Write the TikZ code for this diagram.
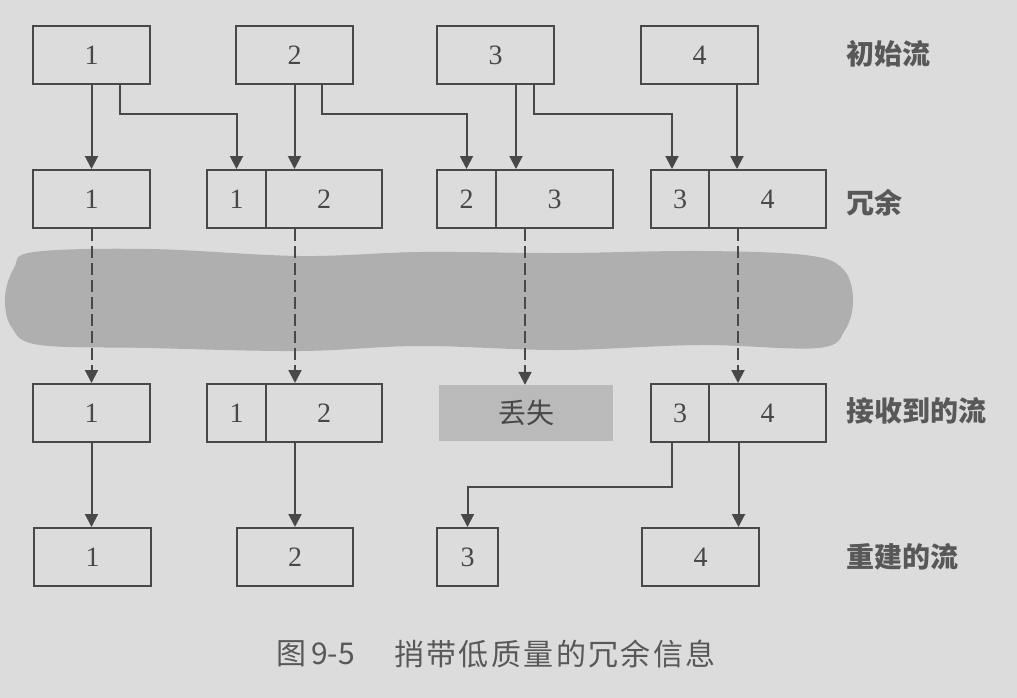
\documentclass[tikz,border=0pt]{standalone}
\usepackage{fontspec}
\setmainfont{Liberation Serif}
\newfontfamily\cjk{Noto Sans CJK SC}
\newfontfamily\cjkwide[LetterSpace=8]{Noto Sans CJK SC}
\usetikzlibrary{arrows.meta}
\definecolor{bgc}{RGB}{220,220,220}
\definecolor{ink}{RGB}{72,72,72}
\definecolor{smudgec}{RGB}{175,175,175}
\definecolor{lostc}{RGB}{186,186,186}
\definecolor{lbl}{RGB}{88,88,88}
\begin{document}
\begin{tikzpicture}[x=1pt,y=-1pt,
  box/.style={draw=ink, line width=2pt, inner sep=0pt, minimum height=58pt,
    text=ink, font=\fontsize{28}{28}\selectfont},
  lostbox/.style={fill=lostc, inner sep=0pt, minimum width=174pt, minimum height=56pt,
    text=ink, font=\cjk\fontsize{28}{28}\selectfont},
  arr/.style={draw=ink, line width=2pt, -{Triangle[width=13pt,length=13pt]}},
  darr/.style={arr, dash pattern=on 12pt off 5pt},
  rowlabel/.style={anchor=west, inner sep=0pt, text=lbl, font=\cjk\bfseries\fontsize{28}{28}\selectfont},
  captext/.style={anchor=west, inner sep=0pt, text=lbl, font=\cjk\fontsize{30}{30}\selectfont}
]
\useasboundingbox (0,0) rectangle (1017,698);
\fill[bgc] (0,0) rectangle (1017,698);

% lossy channel smudge
\fill[smudgec] plot[smooth cycle, tension=0.6] coordinates {
  (5,298) (14,268) (34,252) (150,249) (300,256) (420,252) (560,253) (700,251)
  (805,255) (842,268) (853,298) (845,330) (818,348) (700,345) (560,350)
  (420,346) (300,351) (150,348) (40,345) (12,328)};

% row 1: original stream
\node[box, minimum width=117pt] (t1) at (91.5,55) {1};
\node[box, minimum width=117pt] (t2) at (294.5,55) {2};
\node[box, minimum width=117pt] (t3) at (495.5,55) {3};
\node[box, minimum width=117pt] (t4) at (699.5,55) {4};

% row 2: redundant
\node[box, minimum width=117pt] (r2a) at (91.5,199) {1};
\node[box, minimum width=59pt] (r2b1) at (236.5,199) {1};
\node[box, minimum width=116pt] (r2b2) at (324,199) {2};
\node[box, minimum width=59pt] (r2c1) at (466.5,199) {2};
\node[box, minimum width=117pt] (r2c2) at (554.5,199) {3};
\node[box, minimum width=58pt] (r2d1) at (680,199) {3};
\node[box, minimum width=117pt] (r2d2) at (767.5,199) {4};

% row 3: received
\node[box, minimum width=117pt] (r3a) at (91.5,413) {1};
\node[box, minimum width=59pt] (r3b1) at (236.5,413) {1};
\node[box, minimum width=116pt] (r3b2) at (324,413) {2};
\node[lostbox] (lost) at (526,413) {丢失};
\node[box, minimum width=58pt] (r3d1) at (680,413) {3};
\node[box, minimum width=117pt] (r3d2) at (767.5,413) {4};

% row 4: rebuilt
\node[box, minimum width=117pt] (f1) at (92.5,557) {1};
\node[box, minimum width=116pt] (f2) at (295,557) {2};
\node[box, minimum width=61pt] (f3) at (467.5,557) {3};
\node[box, minimum width=117pt] (f4) at (700.5,557) {4};

% row labels
\node[rowlabel] (l1) at (846,54) {初始流};
\node[rowlabel] (l2) at (846,203) {冗余};
\node[rowlabel] (l3) at (846,411) {接收到的流};
\node[rowlabel] (l4) at (846,557) {重建的流};

% connectors row 1 -> row 2
\coordinate (b1) at ([xshift=28.5pt]t1.south);
\coordinate (b2) at ([xshift=27.5pt]t2.south);
\coordinate (s3) at ([xshift=20.5pt]t3.south);
\coordinate (b3) at ([xshift=38.5pt]t3.south);
\coordinate (e3) at ([xshift=-8pt]r2d1.north);
\coordinate (s4) at ([xshift=37.5pt]t4.south);
\draw[arr] (t1.south) -- (r2a.north);
\draw[arr] (b1) -- ++(0,29) -| (r2b1.north);
\draw[arr] (t2.south) -- (t2.south |- r2b2.north);
\draw[arr] (b2) -- ++(0,29) -| (r2c1.north);
\draw[arr] (s3) -- (s3 |- r2c2.north);
\draw[arr] (b3) -- ++(0,29) -| (e3);
\draw[arr] (s4) -- (s4 |- r2d2.north);

% dashed: row 2 -> row 3 through the channel
\coordinate (d2) at ([xshift=-29pt]r2b2.south);
\coordinate (d3) at ([xshift=-29.5pt]r2c2.south);
\coordinate (d4) at ([xshift=-29.5pt]r2d2.south);
\draw[darr] (r2a.south) -- (r3a.north);
\draw[darr] (d2) -- (d2 |- r3b2.north);
\draw[darr] (d3) -- (d3 |- lost.north);
\draw[darr] (d4) -- (d4 |- r3d2.north);

% row 3 -> row 4
\coordinate (g3) at ([xshift=-8pt]r3d1.south);
\coordinate (g4) at ([xshift=-29pt]r3d2.south);
\draw[arr] (r3a.south) -- (r3a.south |- f1.north);
\draw[arr] (f2.north |- r3b2.south) -- (f2.north);
\draw[arr] (g3) -- ++(0,44) -| (f3.north);
\draw[arr] (g4) -- (g4 |- f4.north);

% caption
\node[captext] (capA) at (276,654) {图};
\node[captext] (capB) at (311,654) {9-5};
\node[captext, font=\cjkwide\fontsize{30}{30}\selectfont] (capC) at (394,654) {捎带低质量的冗余信息};
\end{tikzpicture}
\end{document}
